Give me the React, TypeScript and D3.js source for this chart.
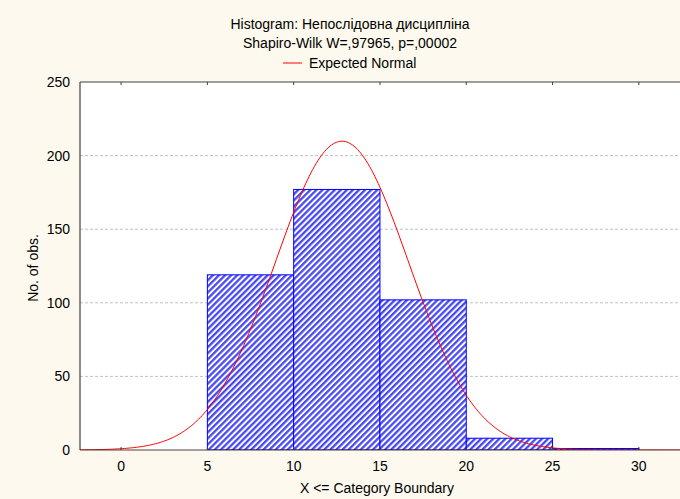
import React, { useEffect } from "react";
import * as d3 from "d3";

const binStarts = [0, 5, 10, 15, 20, 25, 30];
const binCounts = [0, 119, 177, 102, 8, 1, 0];
const xTicks = [0, 5, 10, 15, 20, 25, 30];
const yTicks = [0, 50, 100, 150, 200, 250];
const gridTicks = [50, 100, 150, 200];
const titleLines = ["Histogram: Непослідовна дисципліна", "Shapiro-Wilk W=,97965, p=,00002"];
const legendLabel = "Expected Normal";
const normalMean = 12.8;
const normalSd = 3.87;
const binWidth = 5;

const W = 680;
const H = 499;
const L = 80;
const R = 680;
const T = 82;
const B = 450;

export default function App() {
  useEffect(() => {
    document.body.style.margin = "0";
  }, []);

  const x = d3.scaleLinear().domain([-2.38, 32.5]).range([L, R + 2]);
  const y = d3.scaleLinear().domain([0, 250]).range([B, T]);
  const total = d3.sum(binCounts);

  const curveX = d3.range(-2.4, 33.01, 0.1);
  const line = d3
    .line<number>()
    .x((d) => x(d))
    .y((d) => {
      const v =
        (total * binWidth * Math.exp(-((d - normalMean) ** 2) / (2 * normalSd * normalSd))) /
        (normalSd * Math.sqrt(2 * Math.PI));
      return y(v);
    });

  const font = "'Liberation Sans', Arial, sans-serif";
  const fs = 14;

  return (
    <svg width={W} height={H} style={{ position: "absolute", left: 0, top: 0, display: "block" }} fontFamily={font}>
      <defs>
        <pattern id="hatch" patternUnits="userSpaceOnUse" width={4.3} height={4.3} patternTransform="rotate(45)">
          <rect x={0} y={0} width={4.3} height={4.3} fill="#ffffff" />
          <rect x={0} y={0} width={2.3} height={4.3} fill="#4848f4" />
        </pattern>
        <clipPath id="plotclip">
          <rect x={L} y={T} width={R - L} height={B - T} />
        </clipPath>
      </defs>
      <rect x={0} y={0} width={W} height={H} fill="#fdf9ee" />
      <rect x={L} y={T} width={R - L} height={B - T} fill="#ffffff" />

      {gridTicks.map((t) => (
        <line key={t} x1={L} x2={R} y1={y(t)} y2={y(t)} stroke="#c0c0c0" strokeDasharray="3,2" strokeWidth={1} />
      ))}

      <g clipPath="url(#plotclip)">
        {binStarts.map((s, i) =>
          binCounts[i] > 0 ? (
            <rect
              key={s}
              x={x(s)}
              y={y(binCounts[i])}
              width={x(s + binWidth) - x(s)}
              height={B - y(binCounts[i])}
              fill="url(#hatch)"
              stroke="#0000ff"
              strokeWidth={1}
            />
          ) : null
        )}
        <path d={line(curveX) || ""} fill="none" stroke="#ff0000" strokeWidth={1} />
      </g>

      <line x1={L} x2={R} y1={T} y2={T} stroke="#404040" strokeWidth={1.2} />
      <line x1={L} x2={L} y1={T} y2={B} stroke="#404040" strokeWidth={1.2} />
      <line x1={L} x2={R} y1={B} y2={B} stroke="#3a2020" strokeWidth={1.2} opacity={0.85} />

      {xTicks.map((t) => (
        <g key={t}>
          <line x1={x(t)} x2={x(t)} y1={B} y2={B - 3} stroke="#404040" />
          <line x1={x(t)} x2={x(t)} y1={T} y2={T + 3} stroke="#404040" />
          <text x={x(t)} y={471} textAnchor="middle" fontSize={fs} fill="#000">
            {t}
          </text>
        </g>
      ))}
      {yTicks.map((t) => (
        <text key={t} x={70} y={y(t) + 5} textAnchor="end" fontSize={fs} fill="#000">
          {t}
        </text>
      ))}

      <text x={377} y={493} textAnchor="middle" fontSize={fs} fill="#000">
        X &lt;= Category Boundary
      </text>
      <text transform={`translate(38,268) rotate(-90)`} textAnchor="middle" fontSize={fs} fill="#000">
        No. of obs.
      </text>

      {titleLines.map((s, i) => (
        <text key={i} x={350} y={29 + i * 19} textAnchor="middle" fontSize={fs} fill="#000">
          {s}
        </text>
      ))}
      <line x1={283} x2={302} y1={63} y2={63} stroke="#ff0000" strokeWidth={1} />
      <text x={309} y={68} fontSize={fs} fill="#000">
        {legendLabel}
      </text>
    </svg>
  );
}
